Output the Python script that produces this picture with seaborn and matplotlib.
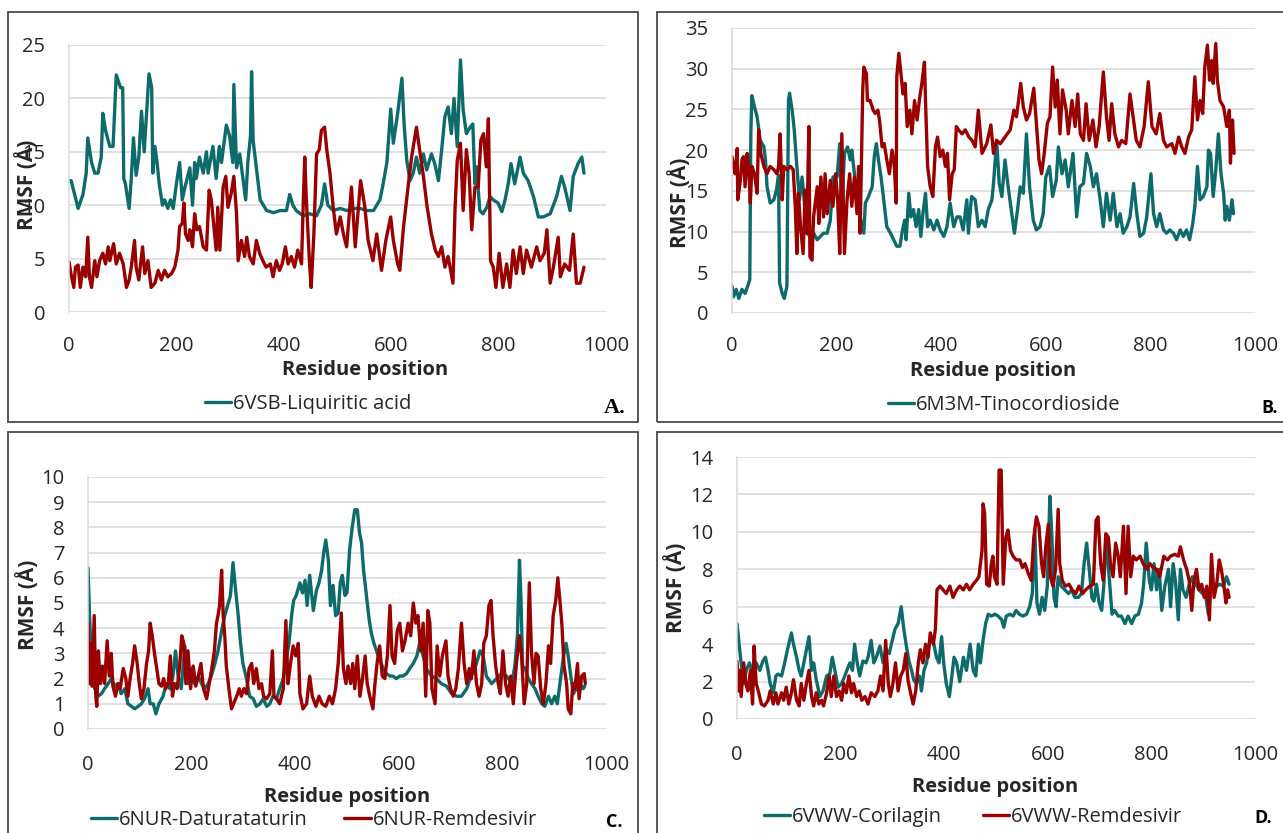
import matplotlib
matplotlib.use("Agg")
import matplotlib.pyplot as plt
from matplotlib.patches import Rectangle
import seaborn as sns

# ---------------- RMSF per residue (Å) ----------------
# Panel A: 6VSB
a_teal_res = [0, 4, 17, 26, 32, 35, 42, 48, 54, 60, 63, 68, 76, 82, 88, 96, 100, 102, 105, 112, 116, 120, 125, 130, 135, 140, 149, 154, 156, 160, 164, 168, 174, 178, 184, 189, 194, 200, 206, 211, 215, 225, 230, 234, 237, 243, 250, 256, 259, 268, 274, 280, 284, 293, 299, 305, 307, 312, 318, 329, 333, 338, 340, 343, 350, 356, 368, 381, 393, 405, 411, 417, 423, 436, 448, 461, 470, 476, 482, 492, 505, 517, 529, 542, 554, 567, 579, 585, 592, 599, 604, 612, 620, 624, 629, 635, 641, 647, 653, 660, 666, 675, 681, 688, 694, 700, 706, 712, 717, 723, 729, 734, 740, 747, 752, 756, 759, 765, 771, 778, 784, 790, 799, 806, 812, 818, 823, 830, 840, 846, 855, 865, 874, 883, 896, 908, 917, 923, 933, 939, 948, 955, 959]
a_teal_rmsf = [12.3, 12.3, 9.7, 11, 13, 16.3, 14, 13, 13, 14.5, 18.6, 17, 15.5, 15.5, 22.2, 21, 21, 12.5, 12, 9.7, 12.5, 16.3, 12.8, 14.5, 18.8, 15, 22.3, 21, 13, 15.5, 14, 12, 10, 10.5, 9.7, 10.5, 9.7, 12, 14, 10.5, 11.5, 13.5, 10, 14, 12.5, 14.5, 13, 15, 13, 15.5, 12.5, 15.5, 14, 17.5, 16.5, 14, 21.3, 13.5, 14.8, 10.5, 14, 16.5, 22.5, 16, 13, 10.5, 9.5, 9.3, 9.5, 9.5, 11, 10, 9.5, 9, 9.2, 9, 10, 12, 10, 9.5, 9.7, 9.5, 9.7, 9.7, 9.5, 9.5, 10.5, 12, 14, 19, 15.8, 18.6, 21.9, 17.6, 14.2, 12.3, 13, 14.5, 13, 14.8, 13.3, 14.8, 13.9, 12.3, 15.2, 18.3, 19.2, 16.7, 20, 15.5, 23.6, 18.9, 16.7, 17.3, 17.6, 12, 13.6, 9.5, 9.2, 9.8, 10.8, 10.5, 10.2, 9.4, 10.5, 12, 13.9, 12, 14.5, 13, 12.3, 10.8, 8.9, 8.9, 9.2, 10.8, 12.7, 11.7, 9.5, 12.7, 13.9, 14.5, 13]

a_red_res = [0, 4, 9, 12, 17, 21, 26, 31, 35, 38, 42, 48, 52, 57, 63, 68, 73, 76, 83, 88, 94, 101, 107, 112, 116, 122, 125, 130, 137, 141, 147, 153, 160, 166, 172, 178, 184, 191, 197, 203, 206, 211, 214, 217, 222, 225, 230, 234, 238, 243, 250, 256, 261, 265, 268, 274, 277, 281, 287, 292, 296, 302, 307, 312, 315, 321, 327, 331, 336, 343, 349, 355, 361, 367, 375, 380, 386, 392, 397, 403, 408, 414, 420, 426, 433, 436, 439, 442, 448, 451, 456, 461, 466, 470, 476, 480, 486, 492, 498, 505, 511, 517, 526, 533, 539, 543, 551, 557, 566, 573, 582, 590, 599, 604, 612, 616, 623, 630, 638, 647, 653, 660, 667, 675, 682, 688, 694, 700, 706, 715, 719, 723, 729, 734, 740, 745, 750, 756, 762, 767, 772, 777, 781, 785, 790, 795, 801, 808, 815, 821, 827, 833, 840, 846, 852, 861, 871, 877, 885, 890, 896, 902, 911, 915, 923, 932, 939, 945, 952, 959]
a_red_rmsf = [4.7, 3.5, 2.3, 4.2, 4.4, 2.3, 4.2, 3.3, 7, 3.3, 2.3, 4.8, 3.3, 4.8, 5.5, 4.5, 6.1, 4.8, 6.4, 4.5, 5.5, 4.5, 2.3, 3, 4.2, 6.7, 4.2, 3, 6.1, 3.6, 4.8, 2.3, 2.7, 3.9, 3, 3.9, 3.3, 3.6, 4.2, 5.8, 8, 8.3, 10.2, 7.3, 6.7, 7.7, 6.1, 9.2, 7.7, 8, 6.1, 5.8, 11.4, 10.5, 8.9, 5.8, 9.8, 5.8, 11.7, 12.7, 9.8, 11.1, 12.7, 9.2, 4.8, 6.7, 5.2, 7, 5.2, 4.5, 6.7, 5.5, 4.8, 4.2, 4.5, 3.3, 4.8, 3.9, 4.5, 6.1, 4.5, 5.2, 4.2, 5.8, 4.5, 9.8, 14.5, 10.5, 4.5, 2.3, 7.3, 14.8, 15.2, 17, 17.3, 15.2, 13, 9.8, 7.3, 8.9, 7.3, 6.1, 11.7, 6.1, 9.8, 12.3, 9.8, 6.7, 4.8, 7.3, 3.9, 6.7, 8.9, 6.7, 4.5, 3.9, 8, 11.1, 14.5, 17.3, 15.2, 12.7, 9.8, 7.3, 5.8, 5.2, 6.1, 4.2, 5.2, 2.7, 9.8, 14.2, 15.8, 9.5, 15.2, 13, 7.7, 11.7, 11.7, 16.1, 16.7, 13.6, 18.1, 4.8, 4.2, 2.3, 5.5, 2.3, 4.5, 2.3, 5.8, 3.6, 6.1, 3.6, 5.8, 4.2, 6.1, 4.8, 5.5, 7.7, 2.7, 4.2, 7, 3.3, 4.5, 3.9, 7.3, 2.7, 2.7, 4.2]

# Panel B: 6M3M
b_teal_res = [0, 3, 8, 13, 19, 25, 30, 34, 36, 38, 43, 48, 54, 61, 64, 67, 73, 80, 85, 89, 91, 96, 100, 105, 108, 110, 115, 119, 124, 129, 134, 138, 143, 150, 156, 163, 169, 175, 182, 188, 193, 201, 206, 210, 215, 221, 226, 229, 234, 239, 245, 252, 255, 261, 268, 272, 276, 280, 285, 290, 296, 303, 309, 315, 321, 325, 330, 333, 338, 342, 347, 352, 357, 361, 365, 370, 374, 379, 386, 392, 398, 405, 411, 417, 424, 430, 436, 442, 449, 452, 458, 465, 471, 478, 484, 490, 497, 500, 506, 511, 516, 522, 528, 535, 540, 546, 551, 557, 563, 569, 576, 582, 589, 595, 600, 607, 613, 620, 624, 631, 637, 643, 652, 659, 665, 672, 678, 685, 691, 697, 704, 710, 716, 723, 729, 736, 742, 748, 755, 761, 768, 774, 780, 787, 793, 801, 806, 812, 818, 825, 831, 837, 844, 850, 857, 863, 869, 875, 881, 885, 890, 895, 901, 908, 911, 915, 920, 925, 930, 935, 940, 943, 946, 951, 956, 959]
b_teal_rmsf = [3.3, 2, 2.9, 1.8, 2.9, 2.4, 3.3, 4.1, 22, 26.7, 25.3, 24.1, 21.2, 20.4, 18.8, 15.5, 13.5, 13.9, 15.1, 16.9, 3.7, 2.4, 1.8, 3.3, 26.1, 27, 24.9, 22.5, 18, 13.9, 16.7, 13.9, 9.8, 9.4, 9.8, 9, 9.4, 9.8, 9.8, 11.4, 16.7, 16.7, 20.8, 13.1, 19.6, 20.4, 18.8, 20, 17.1, 14.3, 11.8, 9.8, 13.5, 14.3, 15.5, 19.2, 20.8, 18.8, 16.7, 13.9, 10.6, 9.8, 9, 8.2, 8.2, 9.8, 11.4, 9, 14.7, 11.8, 12.7, 10.6, 12.7, 9.4, 12.2, 14.7, 10.6, 11.4, 10.2, 11.4, 10.2, 9.4, 10.6, 13.5, 10.6, 11.8, 11.8, 10.2, 13.9, 9.8, 14.3, 13.9, 10.6, 11.4, 10.6, 12.7, 13.9, 15.9, 21.2, 15.9, 14.3, 18.8, 15.5, 12.2, 9.8, 12.7, 15.5, 14.7, 22, 15.5, 11.4, 10.2, 10.6, 12.2, 16.7, 18, 14.3, 16.3, 20.4, 17.1, 18.8, 15.5, 19.6, 11.8, 15.5, 15.9, 19.6, 18, 15.5, 17.1, 13.9, 10.6, 14.7, 11.4, 14.7, 10.6, 12.2, 9.8, 10.6, 11.8, 15.9, 12.2, 9.4, 9.8, 11.8, 17.1, 12.2, 10.6, 12.2, 10.2, 9.8, 10.2, 9.8, 9, 10.2, 9.4, 10.2, 9, 11, 13.1, 18, 13.9, 14.3, 15.5, 20, 19.6, 14.3, 17.6, 22, 17.1, 14.7, 11.4, 13.1, 11.4, 13.9, 12.2]

b_red_res = [0, 3, 6, 10, 11, 16, 19, 22, 25, 29, 32, 35, 38, 43, 48, 51, 55, 61, 67, 73, 80, 86, 89, 92, 96, 99, 105, 112, 117, 121, 124, 127, 131, 136, 140, 143, 147, 149, 153, 156, 163, 166, 170, 175, 178, 182, 188, 193, 198, 202, 206, 210, 215, 220, 225, 229, 234, 239, 242, 245, 250, 252, 257, 259, 264, 270, 274, 279, 282, 287, 291, 296, 301, 306, 310, 314, 315, 319, 323, 327, 331, 335, 340, 344, 349, 354, 359, 363, 368, 370, 374, 379, 384, 389, 393, 398, 403, 408, 412, 416, 421, 425, 429, 433, 440, 446, 453, 459, 465, 471, 478, 487, 495, 500, 506, 513, 522, 532, 539, 544, 552, 557, 563, 569, 577, 582, 587, 592, 597, 603, 608, 613, 618, 622, 627, 632, 639, 643, 650, 656, 661, 666, 672, 677, 683, 690, 696, 702, 710, 716, 721, 726, 732, 739, 745, 753, 761, 766, 773, 780, 788, 796, 803, 811, 818, 825, 831, 841, 847, 854, 860, 866, 873, 879, 885, 890, 895, 900, 904, 909, 913, 917, 920, 925, 928, 933, 940, 946, 951, 953, 957, 960]
b_red_rmsf = [19.2, 18, 17.1, 20.2, 13.9, 16.3, 18.8, 19.2, 15.5, 19.6, 18, 13.5, 18, 17.1, 14.7, 22.5, 19.6, 18, 17.1, 18, 17.6, 17.1, 18, 22, 13.9, 18, 17.6, 18, 17.6, 13.1, 7.3, 14.7, 10.6, 7.3, 15.1, 9.8, 22.9, 6.9, 6.5, 11.8, 15.5, 11, 16.7, 11.8, 17.1, 12.2, 16.3, 13.1, 17.1, 13.9, 7.3, 22, 7.3, 13.9, 17.1, 13.1, 16.7, 12.2, 18, 9.8, 27.4, 30.2, 29.4, 26.1, 26.1, 24.9, 24.5, 24.9, 23.7, 20.4, 20.8, 18.8, 17.1, 20, 18.4, 13.5, 29, 31.9, 29.4, 26.9, 28.2, 22.9, 24.9, 22, 26.1, 23.7, 26.5, 28.2, 30.8, 26.1, 18, 15.5, 14.3, 20.4, 21.6, 19.2, 20, 18, 19.6, 13.9, 17.1, 17.6, 22.9, 22.5, 22, 22.5, 21.6, 21.2, 20.4, 24.9, 19.6, 20.8, 23.1, 19.6, 21.2, 20.8, 21.6, 22.5, 24.9, 24.1, 28.2, 25.3, 23.7, 24.5, 27.6, 23.3, 18.8, 17.1, 19.6, 23.3, 24.1, 30.2, 25.3, 28.6, 22, 27.4, 24.9, 22, 26.1, 22.9, 26.9, 22, 21.2, 25.7, 21.2, 23.7, 20.4, 22.9, 29.6, 24.1, 21.2, 25.7, 22, 20.4, 21.2, 20.8, 26.9, 24.5, 21.2, 20.4, 22.9, 28.4, 22.9, 22, 24.5, 21.2, 20.4, 20.8, 19.6, 21.6, 20.4, 19.6, 21.6, 22.5, 29, 23.7, 26.1, 24.5, 30.2, 32.9, 28.6, 31, 28.2, 33.1, 28.6, 26.1, 25.3, 22.9, 24.9, 18.4, 23.7, 19.6]

# Panel C: 6NUR
c_teal_res = [0, 3, 8, 13, 19, 26, 32, 39, 45, 52, 58, 64, 71, 77, 84, 90, 97, 103, 109, 116, 120, 126, 131, 137, 145, 151, 158, 164, 169, 174, 180, 187, 193, 200, 206, 213, 219, 225, 232, 238, 245, 251, 258, 264, 271, 275, 280, 285, 290, 294, 299, 306, 312, 319, 325, 332, 338, 345, 351, 357, 364, 370, 377, 383, 388, 393, 397, 402, 409, 414, 419, 423, 428, 435, 441, 446, 451, 455, 459, 464, 468, 473, 478, 483, 487, 491, 496, 500, 505, 510, 515, 520, 524, 528, 532, 537, 543, 547, 552, 557, 562, 570, 576, 583, 589, 595, 602, 608, 615, 621, 628, 635, 640, 647, 653, 663, 673, 682, 692, 702, 712, 721, 731, 740, 750, 757, 763, 769, 779, 789, 798, 808, 818, 824, 829, 833, 836, 839, 844, 850, 856, 863, 869, 876, 882, 889, 895, 901, 906, 911, 918, 923, 927, 932, 937, 943, 950, 956, 959]
c_teal_rmsf = [6.4, 4.5, 2.1, 1.6, 1.3, 1.4, 1.6, 1.8, 2, 1.7, 1.8, 1.4, 1.6, 1, 0.9, 0.8, 0.9, 1, 1.2, 1.6, 1, 1, 0.6, 1, 1.3, 1.8, 1.6, 2.1, 3.1, 2.1, 1.6, 3.3, 1.8, 2.4, 1.8, 2.1, 1.8, 1.6, 1.8, 2.1, 2.6, 3.1, 3.9, 4.5, 5, 5.3, 6.6, 5.5, 4.5, 3.5, 2.6, 2, 1.3, 1.2, 0.9, 1, 1.2, 0.9, 1, 1.3, 1.2, 1.6, 2, 2.8, 3.4, 4.5, 5.1, 5.3, 5.8, 5.4, 5.9, 4.9, 6.1, 4.7, 5.5, 5.8, 6.3, 7, 7.5, 6.7, 4.9, 5.7, 4.5, 4.6, 5.8, 6.1, 5.3, 5.4, 7.1, 8, 8.7, 8.7, 7.8, 7.4, 6.3, 5.4, 4.3, 3.8, 3.4, 3.1, 2.8, 2.4, 2.2, 2.1, 2.1, 2, 2.1, 2.1, 2.2, 2.4, 2.6, 2.9, 3.4, 2.9, 2.4, 2.1, 2, 1.8, 1.7, 1.4, 1.3, 1.3, 1.6, 2.1, 2.6, 3.1, 2.9, 2.1, 1.8, 2, 2.2, 2.1, 1.8, 2.5, 3.7, 6.7, 5.1, 2.5, 2.4, 2, 1.8, 1.6, 1.3, 1, 0.9, 1.3, 1, 1.3, 1, 1.8, 2.9, 3.4, 2.9, 2.1, 1.4, 1.6, 1.8, 1.6, 1.7]

c_red_res = [0, 2, 5, 8, 12, 15, 17, 20, 24, 28, 32, 37, 41, 45, 48, 53, 58, 62, 68, 73, 77, 82, 86, 90, 95, 99, 103, 108, 113, 117, 120, 124, 129, 132, 137, 142, 146, 150, 155, 159, 163, 167, 172, 177, 181, 185, 189, 193, 198, 203, 208, 213, 218, 223, 229, 234, 239, 244, 248, 251, 254, 258, 261, 264, 267, 272, 277, 281, 287, 292, 296, 301, 306, 311, 316, 320, 325, 330, 335, 339, 345, 351, 356, 359, 364, 370, 377, 382, 386, 391, 396, 401, 406, 409, 415, 422, 428, 433, 440, 446, 452, 459, 466, 472, 478, 483, 489, 493, 498, 502, 507, 511, 515, 520, 525, 530, 535, 539, 544, 550, 554, 558, 563, 568, 573, 578, 583, 587, 592, 597, 602, 607, 612, 618, 623, 628, 633, 637, 642, 647, 652, 656, 660, 664, 670, 674, 679, 684, 691, 695, 700, 705, 710, 715, 721, 726, 731, 736, 740, 745, 750, 755, 760, 764, 769, 774, 778, 782, 787, 792, 796, 801, 806, 811, 816, 821, 827, 833, 837, 842, 847, 852, 856, 861, 865, 869, 874, 879, 884, 889, 893, 898, 903, 907, 911, 915, 919, 924, 927, 932, 936, 940, 945, 948, 953, 958, 960]
c_red_rmsf = [4.2, 1.8, 3.4, 1.7, 4.5, 1.3, 0.9, 3.1, 1.8, 2.5, 1.8, 3.5, 2.1, 3, 1.7, 1.3, 1.8, 1.6, 2.4, 2, 1.3, 2.1, 2.6, 3.3, 2.6, 1.8, 1.2, 1.6, 2.6, 3.1, 4.2, 3.7, 2.9, 2.5, 1.8, 1.7, 2, 1.6, 1.8, 2.9, 1.3, 1.8, 1.6, 2.5, 3.7, 3.4, 1.8, 3.1, 1.6, 2.5, 1.7, 2.1, 2.6, 1.6, 1.2, 1.8, 2.4, 3.1, 4.2, 4.5, 4.9, 6.3, 4.5, 3.7, 2.5, 1.6, 0.8, 1, 1.3, 1.6, 1.3, 1.6, 1.4, 2.4, 2.6, 1.8, 2.4, 1.6, 1.8, 1.3, 1.2, 1.4, 3.1, 1.3, 1.2, 1, 1.6, 4.3, 1.8, 2.6, 3.3, 2.9, 3.4, 1.4, 0.8, 1, 2.1, 1.3, 0.9, 1.3, 1, 0.9, 1.3, 1, 1.6, 2.6, 4.6, 2.4, 1.8, 2.5, 1.8, 2.6, 1.6, 2.9, 1.3, 2, 2.9, 1.8, 1.3, 0.8, 1.8, 2.6, 3.3, 2.1, 2, 2.9, 4.9, 2.9, 2.6, 3.9, 4.2, 3.1, 3.5, 4.2, 3.7, 5, 4.2, 4.5, 3.1, 4.2, 1.3, 4.7, 4.2, 1.6, 1, 3.3, 2.1, 2.9, 3.5, 2.1, 1.6, 1.3, 1.6, 2.4, 4.2, 2.6, 1.8, 2.4, 2, 3.1, 1.8, 1.3, 1.8, 3.4, 3.7, 4.9, 5.1, 3.7, 2.5, 1.8, 1.4, 3.1, 1.8, 1.3, 2.1, 1, 2.6, 3.7, 2.9, 1, 1.8, 5.8, 3.1, 1.8, 3, 2.9, 1.6, 1, 1.8, 3.3, 2.6, 4.5, 5.1, 6, 5.1, 4.1, 2.5, 1.8, 0.8, 0.6, 1.8, 1.6, 2.6, 1.2, 2.1, 2.2, 1.8]

# Panel D: 6VWW
d_teal_res = [0, 4, 8, 13, 18, 24, 31, 37, 44, 50, 55, 60, 64, 70, 75, 79, 86, 92, 99, 105, 109, 115, 120, 124, 129, 134, 139, 144, 148, 153, 160, 166, 173, 179, 184, 189, 195, 202, 208, 212, 218, 223, 227, 232, 237, 243, 249, 253, 259, 264, 269, 276, 282, 288, 294, 298, 305, 311, 317, 322, 327, 332, 337, 341, 346, 352, 356, 361, 366, 371, 375, 380, 385, 390, 395, 399, 404, 410, 414, 419, 424, 430, 437, 443, 450, 456, 461, 466, 470, 475, 480, 485, 491, 498, 504, 511, 515, 520, 527, 533, 539, 545, 552, 559, 565, 570, 575, 579, 584, 589, 594, 599, 604, 608, 612, 616, 620, 626, 633, 640, 646, 652, 659, 665, 670, 675, 680, 685, 689, 694, 699, 704, 708, 713, 719, 724, 729, 736, 742, 749, 755, 762, 768, 775, 781, 785, 790, 796, 800, 805, 810, 815, 820, 826, 833, 837, 842, 847, 852, 856, 861, 867, 873, 879, 886, 892, 899, 905, 910, 914, 919, 926, 932, 939, 945, 950]
d_teal_rmsf = [5.1, 4, 3, 1.9, 2.6, 3, 2.4, 3, 2.6, 3.1, 3.3, 2.6, 1.9, 1.4, 2.3, 2.4, 2.3, 3, 3.9, 4.6, 4, 3.3, 2.6, 2.3, 3, 3.7, 4.4, 2.6, 3, 2.1, 1.2, 1.5, 2.3, 2.4, 3.3, 2.6, 1.7, 1.9, 2.3, 2.6, 3, 2.6, 4, 3, 2.3, 3.1, 3, 3.3, 4.2, 3, 3.3, 3.9, 3, 3.7, 3.5, 4, 4.8, 5.1, 6, 4.8, 3.9, 3.1, 2.6, 2.1, 1.9, 2.3, 1.5, 2.6, 3, 4, 4.4, 4, 3.3, 3, 4.4, 3, 1.9, 1.2, 2.1, 3.3, 3, 2, 3.3, 2.6, 4, 2.6, 2.3, 4, 3, 4.2, 5.1, 5.6, 5.5, 5.6, 5.5, 5.3, 4.9, 5.5, 5.6, 5.5, 5.8, 5.6, 5.5, 5.6, 6, 6.7, 10.1, 6.2, 5.6, 6.5, 5.8, 7.1, 11.9, 9.7, 6.5, 6, 7.6, 7.1, 6.9, 6.7, 6.9, 6.5, 6.5, 6.7, 8.3, 9.4, 8, 6.5, 6.3, 7.2, 6.2, 5.8, 7.1, 9.7, 7.4, 5.6, 5.8, 5.5, 5.5, 5.1, 5.5, 5.1, 5.5, 5.6, 6.2, 7.2, 9.4, 7.4, 6.9, 8.3, 6.9, 8, 5.8, 7.1, 8, 6, 8.3, 7.2, 5.3, 8, 6.9, 6.5, 7.2, 7.6, 7.2, 6.9, 6.7, 6.5, 5.6, 6.9, 7.2, 7.1, 7.2, 7.1, 7.6, 7.2]

d_red_res = [0, 3, 5, 8, 13, 17, 21, 26, 30, 33, 37, 42, 47, 53, 60, 64, 70, 75, 79, 86, 90, 95, 100, 105, 109, 115, 120, 124, 129, 134, 139, 144, 148, 153, 158, 163, 167, 173, 178, 182, 187, 192, 197, 202, 206, 211, 216, 221, 225, 231, 236, 241, 247, 253, 259, 266, 272, 277, 282, 287, 292, 296, 301, 306, 311, 316, 321, 326, 330, 335, 340, 345, 350, 354, 359, 364, 369, 373, 379, 383, 386, 392, 398, 404, 411, 417, 424, 430, 437, 443, 449, 456, 462, 467, 473, 475, 478, 482, 487, 491, 494, 497, 502, 506, 510, 514, 519, 523, 528, 533, 539, 546, 551, 556, 562, 568, 573, 578, 583, 588, 592, 596, 601, 605, 610, 615, 620, 623, 628, 634, 641, 647, 654, 660, 667, 673, 681, 688, 693, 697, 702, 707, 712, 717, 721, 726, 731, 736, 740, 746, 751, 755, 760, 765, 771, 778, 784, 791, 797, 803, 810, 816, 824, 831, 837, 845, 852, 856, 862, 868, 873, 878, 882, 887, 892, 897, 902, 907, 912, 916, 921, 926, 931, 935, 940, 944, 947, 950]
d_red_rmsf = [3.1, 1.5, 2.6, 1.2, 3, 1.9, 1.5, 2.6, 0.8, 3.9, 1.9, 1.4, 0.8, 0.7, 1, 1.5, 0.8, 1.4, 0.8, 1.4, 1, 1.7, 0.8, 1.4, 2.1, 1, 0.7, 1.9, 1, 1.9, 2.6, 1.2, 0.7, 1.4, 0.8, 1, 0.7, 1.4, 2.3, 1.2, 2.3, 1.2, 1.5, 1, 1.9, 1.4, 2.3, 1.4, 1.9, 1.2, 1.5, 1, 1.2, 0.8, 1.4, 1.2, 1.5, 2.3, 1.5, 4.2, 1.9, 1.2, 1.9, 3, 1.5, 2.3, 2.6, 3.5, 2.1, 1.4, 0.8, 1.5, 3, 3.7, 3, 4, 3.3, 4.6, 4, 4.8, 6.9, 7.1, 6.9, 6.7, 7.1, 6.5, 6.9, 7.1, 6.9, 7.2, 6.9, 7.2, 7.4, 7.6, 9, 11.5, 11, 7.2, 7.1, 8.3, 8.7, 7.6, 7.2, 13.3, 13.3, 7.2, 9.7, 10.1, 9, 8.7, 8.5, 8.5, 8.1, 8.3, 7.8, 7.4, 9.7, 10.8, 10.3, 8.3, 7.6, 9.2, 10.4, 7.6, 7.1, 8, 11.2, 8.3, 7.4, 7.1, 7.2, 6.9, 6.7, 7.1, 6.7, 6.9, 7.1, 7.2, 10.6, 10.8, 8.3, 7.4, 9.9, 9.7, 8.3, 7.6, 9.4, 8.7, 7.6, 10.3, 6.7, 10.3, 7.6, 8.7, 8.5, 8.7, 8.3, 8, 8.3, 8.1, 8, 7.6, 8.7, 8.5, 8.7, 8.8, 8.7, 9.2, 8.5, 8, 7.4, 5.8, 7.4, 8, 6.9, 7.2, 6.5, 7.1, 5.3, 8.8, 6.5, 7.2, 8.5, 8, 7.1, 6.2, 6.9, 6.5]

# ---------------- styling ----------------
sns.set_theme(style="white")
plt.rcParams["font.family"] = ["Open Sans", "DejaVu Sans"]

W, H = 1283, 833
TEAL = "#0d6b6b"
RED = "#9b0000"
GRID = "#d9d9d9"
TXT = "#262626"
FRAME = "#4a4a4a"
LW = 2.4
TICK_FS = 14.5
LEG_FS = 14.5

fig = plt.figure(figsize=(W / 100, H / 100), dpi=100)
fig.patch.set_facecolor("white")


def fx(x):
    return x / W


def fy(y):
    return 1 - y / H


def px_rect(l, t, r, b):
    return [l / W, 1 - b / H, (r - l) / W, (b - t) / H]


panels = [
    dict(frame=(8, 12, 638, 422), plot=(69, 45, 606, 312), ymax=25, ystep=5,
         teal=(a_teal_res, a_teal_rmsf, "6VSB-Liquiritic acid"),
         red=(a_red_res, a_red_rmsf, None),
         ylab=(27, 185), xlab=(365, 370), leg=(308, 404), tag=("A.", 615, 408, True),
         xpad=17, colsp=1.5),
    dict(frame=(657, 12, 1292, 422), plot=(732, 28, 1255, 313), ymax=35, ystep=5,
         teal=(b_teal_res, b_teal_rmsf, "6M3M-Tinocordioside"),
         red=(b_red_res, b_red_rmsf, None),
         ylab=(680, 203), xlab=(993, 371), leg=(1004, 405), tag=("B.", 1270, 408, False),
         xpad=16.5, colsp=1.5),
    dict(frame=(8, 432, 638, 845), plot=(88, 477, 606, 729), ymax=10, ystep=1,
         teal=(c_teal_res, c_teal_rmsf, "6NUR-Daturataturin"),
         red=(c_red_res, c_red_rmsf, "6NUR-Remdesivir"),
         ylab=(28, 605), xlab=(347, 797), leg=(314, 820), tag=("C.", 614, 822, False),
         xpad=19, colsp=1.8),
    dict(frame=(657, 432, 1292, 845), plot=(737, 457, 1255, 719), ymax=14, ystep=2,
         teal=(d_teal_res, d_teal_rmsf, "6VWW-Corilagin"),
         red=(d_red_res, d_red_rmsf, "6VWW-Remdesivir"),
         ylab=(676, 588), xlab=(995, 787), leg=(973, 817), tag=("D.", 1263, 818, False),
         xpad=18.5, colsp=2.0),
]

for p in panels:
    l, t, r, b = p["frame"]
    fig.patches.append(Rectangle((fx(l), fy(b)), (r - l) / W, (b - t) / H,
                                 transform=fig.transFigure, fill=False,
                                 edgecolor=FRAME, linewidth=1.3, zorder=0))

    ax = fig.add_axes(px_rect(*p["plot"]))
    ax.set_facecolor("white")

    sns.lineplot(x=p["teal"][0], y=p["teal"][1], ax=ax, color=TEAL, linewidth=LW,
                 estimator=None, sort=False, legend=False)
    sns.lineplot(x=p["red"][0], y=p["red"][1], ax=ax, color=RED, linewidth=LW,
                 estimator=None, sort=False, legend=False)

    ax.set_xlim(0, 1000)
    ax.set_ylim(0, p["ymax"])
    ax.set_xticks(range(0, 1001, 200))
    ax.set_yticks(range(0, p["ymax"] + 1, p["ystep"]))
    ax.set_xlabel("")
    ax.set_ylabel("")
    ax.yaxis.grid(True, color=GRID, linewidth=1.1, zorder=0)
    ax.xaxis.grid(False)
    ax.set_axisbelow(True)
    for side in ("top", "right", "bottom"):
        ax.spines[side].set_visible(False)
    ax.spines["left"].set_color(GRID)
    ax.spines["left"].set_linewidth(1.1)
    ax.tick_params(axis="both", length=0, labelsize=TICK_FS, colors=TXT)
    ax.tick_params(axis="y", pad=17)
    ax.tick_params(axis="x", pad=p["xpad"])

    handles = [ax.lines[0]]
    labels = [p["teal"][2]]
    if p["red"][2]:
        handles.append(ax.lines[1])
        labels.append(p["red"][2])
    ax.legend(handles, labels, loc="center", bbox_to_anchor=(fx(p["leg"][0]), fy(p["leg"][1])),
              bbox_transform=fig.transFigure, ncol=len(handles), frameon=False,
              fontsize=LEG_FS, handlelength=1.3, handletextpad=0.1, columnspacing=p["colsp"],
              borderpad=0, borderaxespad=0, labelcolor=TXT)

    fig.text(fx(p["ylab"][0]), fy(p["ylab"][1]), "RMSF (Å)", rotation=90, ha="center",
             va="center", fontsize=15, fontweight="bold", color=TXT)
    fig.text(fx(p["xlab"][0]), fy(p["xlab"][1]), "Residue position", ha="center",
             va="center", fontsize=14.5, fontweight="bold", color=TXT)
    tag, tx, ty, serif = p["tag"]
    if serif:
        fig.text(fx(tx), fy(ty), tag, ha="center", va="center", fontsize=16,
                 fontweight="bold", color="black", family=["Liberation Serif", "DejaVu Serif"])
    else:
        fig.text(fx(tx), fy(ty), tag, ha="center", va="center", fontsize=13,
                 fontweight="bold", color="black")

fig.savefig("out.png", dpi=100, facecolor="white")
